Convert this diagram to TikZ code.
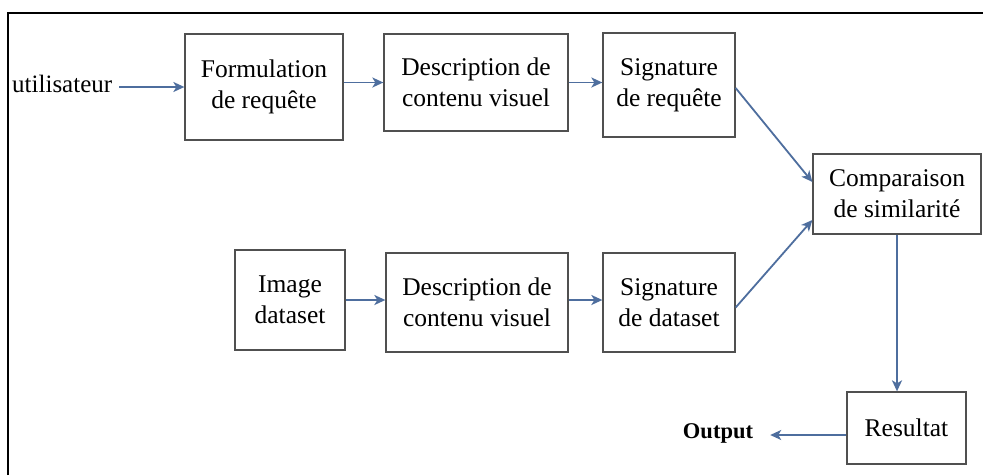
\documentclass[tikz,border=0pt]{standalone}
\usepackage{fontspec}
\setmainfont{Liberation Serif}
\usetikzlibrary{arrows.meta}
\definecolor{boxgray}{HTML}{505050}
\definecolor{flowblue}{HTML}{4E6E9E}
\begin{document}
\begin{tikzpicture}[x=1pt,y=-1pt,
  box/.style={draw=boxgray,line width=1.3pt,align=center,inner sep=0pt,
    font=\fontsize{25.5}{31}\selectfont},
  label/.style={inner sep=0pt,font=\fontsize{25}{30}\selectfont},
  flow/.style={draw=flowblue,line width=1.8pt,-{Stealth[length=11pt,width=10pt,inset=3pt]}}]
\useasboundingbox (0,0) rectangle (983,475);
\fill[white] (0,0) rectangle (983,475);
% frame
\draw[black,line width=1.8pt] (8,475) -- (8,13) -- (983,13);

% upper chain
\node[label,anchor=west] (user) at (12,84) {utilisateur};
\node[box,minimum width=158pt,minimum height=106pt] (form) at (264,87) {Formulation\\de requête};
\node[box,minimum width=184pt,minimum height=97pt] (descq) at (476,82.5) {Description de\\contenu visuel};
\node[box,minimum width=132pt,minimum height=104pt] (sigq) at (669,85) {Signature\\de requête};

% lower chain
\node[box,minimum width=110pt,minimum height=100pt] (img) at (290,300) {Image\\dataset};
\node[box,minimum width=182pt,minimum height=99pt] (descd) at (477,302.5) {Description de\\contenu visuel};
\node[box,minimum width=132pt,minimum height=99pt] (sigd) at (669,302.5) {Signature\\de dataset};

% comparison and result
\node[box,minimum width=168pt,minimum height=80pt] (comp) at (897,194) {Comparaison\\de similarité};
\node[box,minimum width=119pt,minimum height=72pt] (res) at (906.5,428) {Resultat};
\node[inner sep=0pt,font=\fontsize{22.5}{27}\selectfont\bfseries] (out) at (718,433) {Output};

% connectors
\draw[flow] ([xshift=7pt]user.east |- form.west) -- (form.west);
\draw[flow] (form.east |- descq.west) -- (descq.west);
\draw[flow] (descq.east) -- (descq.east -| sigq.west);
\draw[flow] (img.east) -- (img.east -| descd.west);
\draw[flow] (descd.east |- img.east) -- (sigd.west |- img.east);
\draw[flow] ([yshift=-3pt]sigq.east) -- ([yshift=12pt]comp.west);
\draw[flow] ([yshift=-5pt]sigd.east) -- ([yshift=-26pt]comp.west);
\draw[flow] (comp.south) -- (comp.south |- res.north);
\draw[flow] ([yshift=-7pt]res.west) -- ([xshift=17pt,yshift=-7pt]out.east |- res.west);
\end{tikzpicture}
\end{document}
